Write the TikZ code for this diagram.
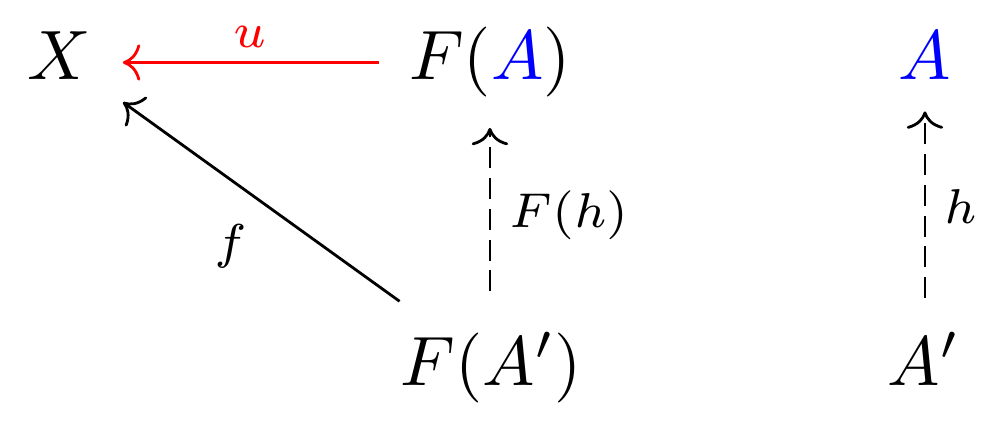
\documentclass[tikz,border=0pt]{standalone}
\usetikzlibrary{calc,cd}
\tikzset{objet/.style={anchor=base, inner sep=0pt},
	etiquette/.style={font=\scriptsize, inner sep=0pt},
	fleche/.style={-cm to, line width=0.4pt},
	pointille/.style={-cm to, dash pattern=on 3pt off 1.4pt}}

\begin{document}
\begin{tikzpicture}[x=1cm, y=1cm]
	\useasboundingbox (0,0) rectangle (4.975,2.146);
	% ligne du haut
	\node[objet] (x) at (0.296,1.744) {$X$};
	\node[objet] (fa) at (2.462,1.744) {$F(\textcolor{blue}{A})$};
	\node[objet] (a) at (4.648,1.744) {$\textcolor{blue}{A}$};
	% ligne du bas
	\node[objet] (fap) at (2.47,0.211) {$F(A')$};
	\node[objet] (ap) at (4.643,0.211) {$A'$};
	% la fleche u (en rouge)
	\draw[fleche, red, shorten <=0.145cm, shorten >=0.155cm] (fa.west) -- (x.east |- fa.west)
		node[midway, above=0.07cm, etiquette] (u) {$u$};
	% la fleche f
	\draw[fleche, shorten <=0.256cm, shorten >=0.192cm] (fap) -- (x)
		node[pos=0.5, below left=0.09cm, etiquette] (lf) {$f$};
	% les fleches en pointilles
	\draw[pointille, shorten <=0.2cm, shorten >=0.146cm] (fa.south |- fap.north) -- (fa.south)
		node[midway, right=0.09cm, etiquette] (lfh) {$F(h)$};
	\draw[pointille, shorten <=0.165cm, shorten >=0.151cm] (a.south |- ap.north) -- (a.south)
		node[midway, right=0.09cm, etiquette] (lh) {$h$};
\end{tikzpicture}
\end{document}
